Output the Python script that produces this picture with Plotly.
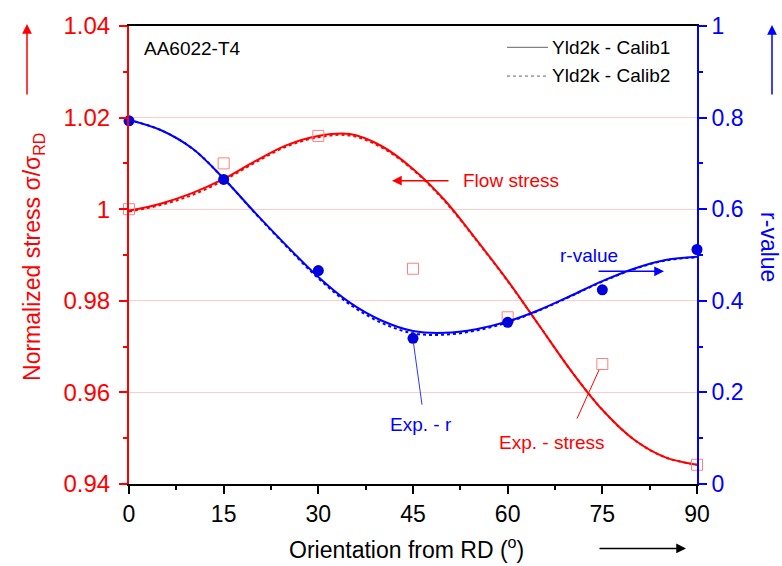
import plotly.graph_objects as go

# ---------------- data ----------------
curve_angle = [0, 5, 10, 15, 20, 25, 30, 35, 40, 45, 50, 55, 60, 65, 70, 75, 80, 85, 90]
stress_calib1 = [0.9997, 1.0012, 1.0035, 1.0066, 1.0105, 1.0140, 1.0160, 1.0164, 1.0138, 1.0088,
                 1.0020, 0.9934, 0.9844, 0.9746, 0.9648, 0.9562, 0.9497, 0.9458, 0.9442]
stress_calib2 = [0.9995, 1.0009, 1.0031, 1.0063, 1.0102, 1.0137, 1.0157, 1.0161, 1.0135, 1.0086,
                 1.0018, 0.9933, 0.9843, 0.9746, 0.9648, 0.9562, 0.9497, 0.9458, 0.9442]
r_calib1 = [0.795, 0.773, 0.733, 0.667, 0.592, 0.520, 0.452, 0.396, 0.357, 0.334,
            0.330, 0.338, 0.355, 0.380, 0.411, 0.443, 0.470, 0.489, 0.496]
r_calib2 = [0.795, 0.773, 0.733, 0.667, 0.591, 0.518, 0.449, 0.392, 0.352, 0.329,
            0.326, 0.335, 0.353, 0.379, 0.410, 0.442, 0.469, 0.488, 0.495]

exp_angle = [0, 15, 30, 45, 60, 75, 90]
exp_stress = [1.000, 1.010, 1.016, 0.987, 0.9764, 0.9662, 0.9442]
exp_r = [0.793, 0.665, 0.466, 0.318, 0.353, 0.424, 0.512]

x_ticks = [0, 15, 30, 45, 60, 75, 90]

# ---------------- style ----------------
FONT = "Liberation Sans, Arial, sans-serif"
RED = "#FF0000"
BLUE = "#0000FF"
BLUE_M = "#0000DD"
PINK = "#FF8080"

W, H = 782, 566
ML, MR, MT, MB = 129, 85, 22, 82
PW, PH = W - ML - MR, H - MT - MB


def px(x):
    return (x - ML) / PW


def py(y):
    return (H - MB - y) / PH


fig = go.Figure()

fig.add_trace(go.Scatter(x=curve_angle, y=stress_calib1, mode="lines", line=dict(color=RED, width=2, shape="spline"),
                         showlegend=False))
fig.add_trace(go.Scatter(x=curve_angle, y=stress_calib2, mode="lines",
                         line=dict(color=RED, width=2, dash="dot", shape="spline"), showlegend=False))
fig.add_trace(go.Scatter(x=curve_angle, y=r_calib1, mode="lines", yaxis="y2",
                         line=dict(color=BLUE, width=2, shape="spline"), showlegend=False))
fig.add_trace(go.Scatter(x=curve_angle, y=r_calib2, mode="lines", yaxis="y2",
                         line=dict(color=BLUE, width=2, dash="dot", shape="spline"), showlegend=False))
fig.add_trace(go.Scatter(x=exp_angle, y=exp_stress, mode="markers", cliponaxis=False,
                         marker=dict(symbol="square-open", size=11, color=PINK, line=dict(width=1, color=PINK)),
                         showlegend=False))
fig.add_trace(go.Scatter(x=exp_angle, y=exp_r, mode="markers", yaxis="y2", cliponaxis=False,
                         marker=dict(symbol="circle", size=11, color=BLUE_M), showlegend=False))

annotations = []
shapes = []

# legend (manual)
shapes.append(dict(type="line", xref="paper", yref="paper", x0=px(507), x1=px(548), y0=py(43.5), y1=py(43.5),
                   line=dict(color="#666666", width=1)))
shapes.append(dict(type="line", xref="paper", yref="paper", x0=px(507), x1=px(548), y0=py(72.5), y1=py(72.5),
                   line=dict(color="#666666", width=1, dash="dot")))
annotations.append(dict(xref="paper", yref="paper", x=px(550), y=py(44), xanchor="left", yanchor="middle",
                        text="Yld2k - Calib1", showarrow=False, font=dict(size=19, color="black", family=FONT)))
annotations.append(dict(xref="paper", yref="paper", x=px(550), y=py(72), xanchor="left", yanchor="middle",
                        text="Yld2k - Calib2", showarrow=False, font=dict(size=19, color="black", family=FONT)))

annotations.append(dict(xref="paper", yref="paper", x=px(142), y=py(45), xanchor="left", yanchor="middle",
                        text="AA6022-T4", showarrow=False, font=dict(size=19, color="black", family=FONT)))

# Flow stress label + arrow
annotations.append(dict(xref="paper", yref="paper", x=px(461), y=py(178), xanchor="left", yanchor="middle",
                        text="Flow stress", showarrow=False, font=dict(size=19, color=RED, family=FONT)))
annotations.append(dict(xref="paper", yref="paper", x=px(392), y=py(178), text="", showarrow=True,
                        ax=58, ay=0, arrowhead=2, arrowsize=1.3, arrowwidth=1.5, arrowcolor=RED))

# r-value label + arrow
annotations.append(dict(xref="paper", yref="paper", x=px(589), y=py(254), xanchor="center", yanchor="middle",
                        text="r-value", showarrow=False, font=dict(size=19, color=BLUE, family=FONT)))
annotations.append(dict(xref="paper", yref="paper", x=px(664), y=py(269.5), text="", showarrow=True,
                        ax=-67, ay=0, arrowhead=2, arrowsize=1.3, arrowwidth=1.5, arrowcolor=BLUE))

# Exp. - r
annotations.append(dict(xref="paper", yref="paper", x=px(421), y=py(424), xanchor="center", yanchor="middle",
                        text="Exp. - r", showarrow=False, font=dict(size=19, color=BLUE, family=FONT)))
shapes.append(dict(type="line", xref="paper", yref="paper", x0=px(422), x1=px(413.5), y0=py(404), y1=py(342),
                   line=dict(color="#3333FF", width=1)))

# Exp. - stress
annotations.append(dict(xref="paper", yref="paper", x=px(552), y=py(442), xanchor="center", yanchor="middle",
                        text="Exp. - stress", showarrow=False, font=dict(size=19, color=RED, family=FONT)))
shapes.append(dict(type="line", xref="paper", yref="paper", x0=px(577), x1=px(599), y0=py(418), y1=py(369),
                   line=dict(color=RED, width=1)))

# axis titles
annotations.append(dict(xref="paper", yref="paper", x=px(34), y=py(255), textangle=-90, xanchor="center",
                        yanchor="middle", text="Normalized stress σ/σ<sub>RD</sub>", showarrow=False,
                        font=dict(size=23, color=RED, family=FONT)))
annotations.append(dict(xref="paper", yref="paper", x=px(769), y=py(245), textangle=90, xanchor="center",
                        yanchor="middle", text="r-value", showarrow=False,
                        font=dict(size=23, color=BLUE, family=FONT)))
annotations.append(dict(xref="paper", yref="paper", x=px(406), y=py(549), xanchor="center", yanchor="middle",
                        text="Orientation from RD (<sup>o</sup>)", showarrow=False,
                        font=dict(size=23, color="black", family=FONT)))

# axis direction arrows
annotations.append(dict(xref="paper", yref="paper", x=px(27), y=py(20), text="", showarrow=True,
                        ax=0, ay=72, arrowhead=2, arrowsize=1.3, arrowwidth=1.5, arrowcolor=RED))
annotations.append(dict(xref="paper", yref="paper", x=px(772), y=py(21), text="", showarrow=True,
                        ax=0, ay=71, arrowhead=2, arrowsize=1.3, arrowwidth=1.5, arrowcolor=BLUE))
annotations.append(dict(xref="paper", yref="paper", x=px(686), y=py(549), text="", showarrow=True,
                        ax=-88, ay=0, arrowhead=2, arrowsize=1.3, arrowwidth=1.5, arrowcolor="black"))

fig.update_layout(
    width=W, height=H,
    margin=dict(l=ML, r=MR, t=MT, b=MB),
    paper_bgcolor="white", plot_bgcolor="white",
    font=dict(family=FONT),
    showlegend=False,
    annotations=annotations,
    shapes=shapes,
    xaxis=dict(range=[0, 90], tickvals=x_ticks, ticks="outside", ticklen=8, tickwidth=1.5, tickcolor="black",
               showline=True, linecolor="black", linewidth=2, mirror=True, showgrid=False, zeroline=False,
               tickfont=dict(size=23, color="black", family=FONT),
               minor=dict(dtick=7.5, tick0=0, ticks="outside", ticklen=4, tickcolor="black", tickwidth=1.5)),
    yaxis=dict(range=[0.94, 1.04], dtick=0.02, tick0=0.94, ticks="outside", ticklen=8, tickwidth=1.5,
               tickcolor=RED, showline=True, linecolor=RED, linewidth=2, showgrid=True, gridcolor="#FFCCCC",
               gridwidth=1, zeroline=False, tickfont=dict(size=24, color=RED, family=FONT),
               ticklabelstandoff=4,
               minor=dict(dtick=0.01, ticks="outside", ticklen=4, tickcolor=RED, tickwidth=1.5, showgrid=False)),
    yaxis2=dict(range=[0, 1], dtick=0.2, tick0=0, overlaying="y", side="right", ticks="outside", ticklen=8,
                tickwidth=1.5, tickcolor=BLUE, showline=True, linecolor=BLUE, linewidth=2, showgrid=False,
                zeroline=False, tickfont=dict(size=23, color=BLUE, family=FONT),
                minor=dict(dtick=0.1, ticks="outside", ticklen=4, tickcolor=BLUE, tickwidth=1.5)),
)

fig.write_html("out.html")
